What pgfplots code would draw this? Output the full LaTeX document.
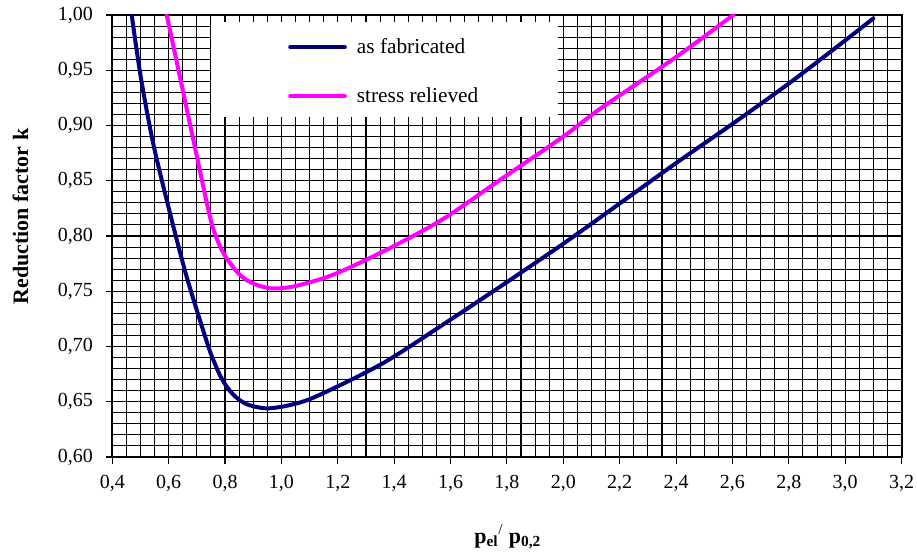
\documentclass[border=0pt]{standalone}
\usepackage{fontspec}
\setmainfont{Liberation Serif}
\usepackage{pgfplots}
\pgfplotsset{compat=1.18}
\definecolor{asfab}{RGB}{0,0,128}
\definecolor{relieved}{RGB}{255,0,255}

\begin{document}
\begin{tikzpicture}
\path[use as bounding box] (-84.2pt,-71.25pt) rectangle ++(687.75pt,414pt);
\begin{axis}[
    at={(0,0)}, anchor=south west,
    scale only axis,
    width=592pt, height=331.5pt,
    xmin=0.4, xmax=3.2, ymin=0.6, ymax=1.0,
    xtick={0.4,0.6,0.8,1.0,1.2,1.4,1.6,1.8,2.0,2.2,2.4,2.6,2.8,3.0,3.2},
    ytick={0.60,0.65,0.70,0.75,0.80,0.85,0.90,0.95,1.00},
    minor xtick={0.4,0.45,...,3.2},
    minor ytick={0.6,0.61,...,1.0},
    grid=both,
    major grid style={black, line width=0.8pt},
    minor grid style={black, line width=0.8pt},
    axis line style={black, line width=1.6pt},
    tick align=outside, tick pos=left,
    major tick length=5pt, minor tick length=0pt,
    tick style={black, line width=0.8pt},
    /pgf/number format/assume math mode=true,
    tick label style={font=\fontsize{15}{18}\selectfont},
    xticklabel style={/pgf/number format/.cd, fixed, fixed zerofill, precision=1, use comma, /tikz/.cd, yshift=-5pt},
    yticklabel style={/pgf/number format/.cd, fixed, fixed zerofill, precision=2, use comma, /tikz/.cd, xshift=-6pt},
    ylabel={Reduction factor k},
    ylabel style={at={(rel axis cs:-0.1162,0.544)}, anchor=center, font=\fontsize{16.5}{20}\selectfont\bfseries},
    xlabel={p\textsubscript{el}\textsuperscript{\mdseries /} p\textsubscript{0,2}},
    xlabel style={at={(rel axis cs:0.501,-0.1946)}, anchor=base, font=\fontsize{16.5}{20}\selectfont\bfseries},
    legend style={at={(rel axis cs:0.2226,0.872)}, anchor=west, draw=none, fill=none,
        inner sep=0pt, font=\fontsize{16}{19}\selectfont, row sep=24pt, column sep=7.5pt,
        nodes={inner sep=0pt}, cells={anchor=west}},
    legend image code/.code={\draw (0pt,0pt) -- (41pt,0pt);},
]
% white patch behind the legend
\fill[white] (axis cs:0.752,0.9077) rectangle (axis cs:1.981,0.994);

\addplot[asfab, line width=3pt, line cap=round, smooth] coordinates {
    (0.469,1.000) (0.501,0.944) (0.545,0.884) (0.602,0.8235) (0.664,0.763)
    (0.737,0.703) (0.760,0.687) (0.782,0.674) (0.805,0.664) (0.829,0.6565)
    (0.855,0.651) (0.885,0.647) (0.948,0.644)
    (1.030,0.647) (1.125,0.655) (1.361,0.685) (1.598,0.724) (1.775,0.754) (2.000,0.793)
    (2.225,0.834) (2.400,0.866) (2.603,0.902) (2.800,0.938) (3.000,0.977)
    (3.100,0.997)
};
\addlegendentry{as fabricated}

\addplot[relieved, line width=3pt, line cap=round, smooth] coordinates {
    (0.593,1.000) (0.640,0.944) (0.690,0.884) (0.741,0.8235) (0.760,0.805)
    (0.780,0.792) (0.800,0.782) (0.825,0.773) (0.850,0.7655) (0.877,0.760)
    (0.915,0.7555) (0.960,0.7527) (1.010,0.7530) (1.070,0.756) (1.184,0.765)
    (1.361,0.786) (1.568,0.8145) (1.777,0.851) (2.000,0.890) (2.130,0.915)
    (2.400,0.962) (2.603,1.000)
};
\addlegendentry{stress relieved}
\end{axis}
\end{tikzpicture}
\end{document}
